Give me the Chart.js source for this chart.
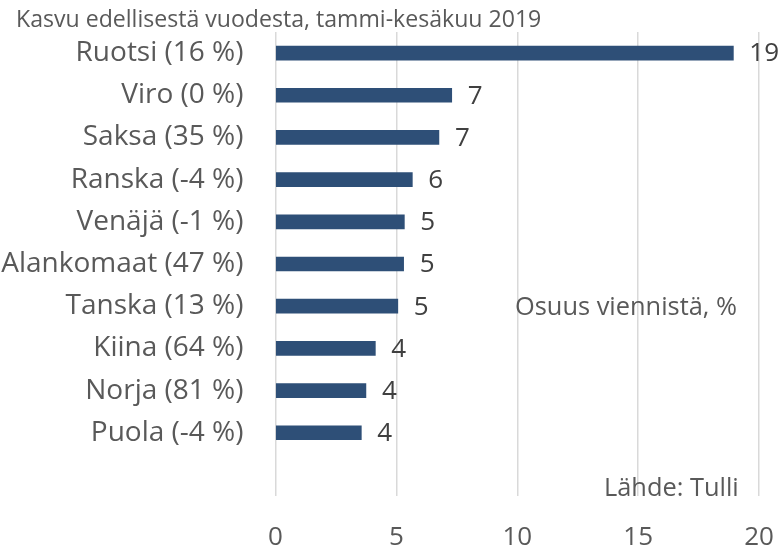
<!DOCTYPE html>
<html>
<head>
<meta charset="utf-8">
<script src="https://cdn.jsdelivr.net/npm/chart.js@4/dist/chart.umd.min.js"></script>
<style>
  html, body { margin: 0; padding: 0; background: #fff; }
  #wrap { width: 784px; height: 547px; position: relative; }
</style>
</head>
<body>
<div id="wrap"><canvas id="c" width="784" height="547"></canvas></div>
<script>
// ---- data ----
const categories = ['Ruotsi (16 %)', 'Viro (0 %)', 'Saksa (35 %)', 'Ranska (-4 %)', 'Venäjä (-1 %)',
  'Alankomaat (47 %)', 'Tanska (13 %)', 'Kiina (64 %)', 'Norja (81 %)', 'Puola (-4 %)', ''];
const shareValues = [18.94, 7.29, 6.76, 5.66, 5.33, 5.30, 5.06, 4.13, 3.74, 3.55, null];
const xTicks = [0, 5, 10, 15, 20];
const titleText = 'Kasvu edellisestä vuodesta, tammi-kesäkuu 2019';
const axisNote = 'Osuus viennistä, %';
const sourceNote = 'Lähde: Tulli';

const FONT = '"Open Sans", "Noto Sans", sans-serif';

const textPlugin = {
  id: 'texts',
  afterDraw(chart) {
    const ctx = chart.ctx;
    ctx.save();
    ctx.fillStyle = '#595959';
    ctx.textAlign = 'left';
    ctx.textBaseline = 'alphabetic';
    ctx.font = '23.1px ' + FONT;
    ctx.fillText(titleText, 16, 27);
    ctx.font = '25.4px ' + FONT;
    ctx.fillText(axisNote, 515, 315);
    ctx.fillText(sourceNote, 604, 496);
    ctx.restore();
  }
};

const valueLabels = {
  id: 'valueLabels',
  afterDatasetsDraw(chart) {
    const ctx = chart.ctx;
    const meta = chart.getDatasetMeta(0);
    ctx.save();
    ctx.fillStyle = '#404040';
    ctx.font = '26px ' + FONT;
    ctx.textAlign = 'left';
    ctx.textBaseline = 'middle';
    meta.data.forEach((bar, i) => {
      const v = shareValues[i];
      if (v === null || v === undefined) return;
      ctx.fillText(String(Math.round(v)), bar.x + 16, bar.y + 1);
    });
    ctx.restore();
  }
};

new Chart(document.getElementById('c'), {
  type: 'bar',
  data: {
    labels: categories,
    datasets: [{
      data: shareValues,
      backgroundColor: '#2E4F77',
      borderWidth: 0,
      barThickness: 14
    }]
  },
  options: {
    indexAxis: 'y',
    responsive: false,
    animation: false,
    layout: { padding: { top: 32, right: 25, left: 0, bottom: 0 } },
    plugins: { legend: { display: false }, tooltip: { enabled: false }, title: { display: false } },
    scales: {
      x: {
        min: 0, max: 20,
        afterBuildTicks(scale) { scale.ticks = xTicks.map(v => ({ value: v })); },
        afterFit(scale) {
          scale.height = 51;
          scale.paddingLeft = 0; scale.paddingRight = 0;
          scale.paddingTop = 0; scale.paddingBottom = 0;
        },
        grid: { color: '#d9d9d9', lineWidth: 1.5, drawTicks: false },
        border: { display: false },
        ticks: { padding: 26, color: '#595959', font: { family: FONT, size: 26 } }
      },
      y: {
        afterFit(scale) {
          scale.width = 275.5;
          scale.paddingLeft = 0; scale.paddingRight = 0;
          scale.paddingTop = 0; scale.paddingBottom = 0;
        },
        grid: { display: false, drawTicks: false },
        border: { display: false },
        ticks: { padding: 32, color: '#595959', font: { family: FONT, size: 28 } }
      }
    }
  },
  plugins: [valueLabels, textPlugin]
});
</script>
</body>
</html>
